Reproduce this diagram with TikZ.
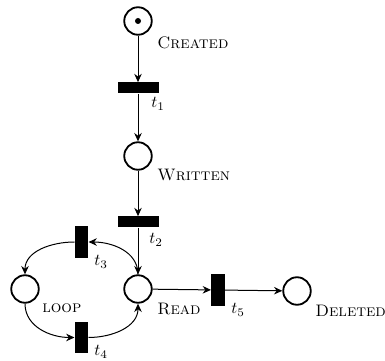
\documentclass[tikz,border=0pt]{standalone}
\usetikzlibrary{arrows.meta}
\tikzset{
  place/.style={circle, draw, line width=1.1pt, minimum size=16.5pt, inner sep=0pt},
  htrans/.style={rectangle, fill=black, draw=none, minimum width=24.6pt, minimum height=6.6pt, inner sep=0pt},
  vtrans/.style={rectangle, fill=black, draw=none, minimum width=8pt, minimum height=19pt, inner sep=0pt},
  arc/.style={-{Stealth[length=5pt,width=4.5pt]}, line width=0.6pt},
  lbl/.style={anchor=west, inner sep=0pt},
  tlbl/.style={inner sep=0pt}
}
\begin{document}
\begin{tikzpicture}[x=0.6pt,y=-0.6pt]
\useasboundingbox (0,0) rectangle (385,361);
% places
\node[place] (created) at (138,21) {};
\fill (created.center) circle (1.8pt);
\node[place] (written) at (138,156) {};
\node[place] (read) at (138,289) {};
\node[place] (loop) at (25,289) {};
\node[place] (deleted) at (297,291) {};
% transitions
\node[htrans] (t1) at (138,88) {};
\node[htrans] (t2) at (138,222) {};
\node[vtrans] (t3) at (81.5,242) {};
\node[vtrans] (t4) at (81.5,337.5) {};
\node[vtrans] (t5) at (218,290) {};
% arcs
\draw[arc] (created) -- (t1);
\draw[arc] (t1) -- (written);
\draw[arc] (written) -- (t2);
\draw[arc] (t2) -- (read);
\draw[arc] (read) to[out=90,in=0] (t3);
\draw[arc] (t3) to[out=180,in=90] (loop);
\draw[arc] (loop) to[out=-90,in=180] (t4);
\draw[arc] (t4) to[out=0,in=-90] (read);
\draw[arc] (read) -- (t5);
\draw[arc] (t5) -- (deleted);
% labels
\node[lbl] (lcreated) at (157,43) {\textsc{Created}};
\node[lbl] (lwritten) at (157,175) {\textsc{Written}};
\node[lbl] (lread) at (157,309) {\textsc{Read}};
\node[lbl] (lloop) at (42,308) {\textsc{loop}};
\node[lbl] (ldeleted) at (315,311) {\textsc{Deleted}};
\node[tlbl] (lt1) at (158,104) {$t_1$};
\node[tlbl] (lt2) at (156,240) {$t_2$};
\node[tlbl] (lt3) at (101,262) {$t_3$};
\node[tlbl] (lt4) at (101,352) {$t_4$};
\node[tlbl] (lt5) at (238,310) {$t_5$};
\end{tikzpicture}
\end{document}
